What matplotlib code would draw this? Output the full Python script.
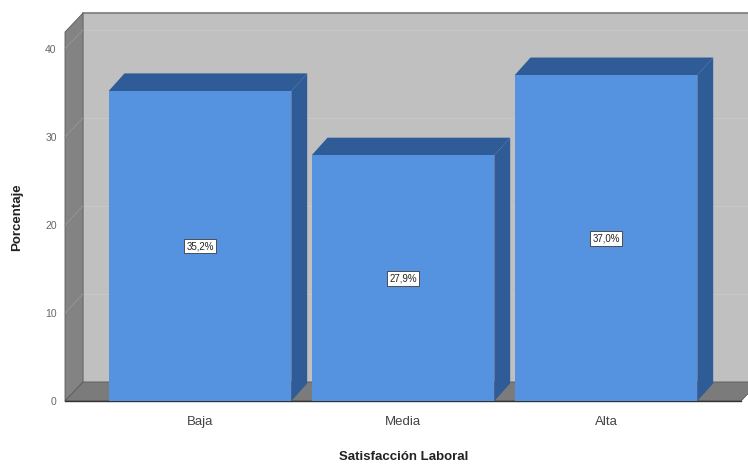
import matplotlib
matplotlib.use('Agg')
import matplotlib.pyplot as plt
from matplotlib.patches import Polygon

plt.rcParams['font.family'] = ['Liberation Sans', 'DejaVu Sans']

categories = ['Baja', 'Media', 'Alta']
percentages = [35.2, 27.9, 37.0]
y_ticks = [0, 10, 20, 30, 40]

# 3D look: depth of the walls and of the bars, in data units
xmin, xmax = -0.665, 2.665
ymax = 41.9
wall_dx, wall_dy = 0.089, 2.16
bar_dx, bar_dy = 0.078, 2.0
bar_w = 0.9

front_col = '#5592e0'
dark_col = '#2f5c96'
back_col = '#c0c0c0'
wall_col = '#838383'
floor_col = '#7b7b7b'

fig = plt.figure(figsize=(7.48, 4.69), dpi=100)
ax = fig.add_axes([65 / 748, 68 / 469, 676 / 748, 369 / 469])
ax.set_xlim(xmin, xmax)
ax.set_ylim(0, ymax)
ax.patch.set_visible(False)
for s in ax.spines.values():
    s.set_visible(False)


def poly(pts, fc, ec='none', lw=0, z=1):
    ax.add_patch(Polygon(pts, closed=True, facecolor=fc, edgecolor=ec,
                         linewidth=lw, clip_on=False, zorder=z))


# back wall, left wall, floor
poly([(xmin + wall_dx, wall_dy), (xmax + wall_dx, wall_dy),
      (xmax + wall_dx, ymax + wall_dy), (xmin + wall_dx, ymax + wall_dy)],
     back_col, z=0)
ax.plot([xmin + wall_dx, xmax + wall_dx], [ymax + wall_dy] * 2,
        color='#7a7a7a', lw=1.2, clip_on=False, zorder=0.5)
poly([(xmin, 0), (xmin + wall_dx, wall_dy), (xmin + wall_dx, ymax + wall_dy),
      (xmin, ymax)], wall_col, ec='#5a5a5a', lw=0.6, z=1)
poly([(xmin, 0), (xmax, 0), (xmax + wall_dx, wall_dy),
      (xmin + wall_dx, wall_dy)], floor_col, ec='#5a5a5a', lw=0.6, z=1)
ax.plot([xmin, xmax], [0, 0], color='#333333', lw=1.0, clip_on=False, zorder=1.2)

# faint grid lines on walls
for t in y_ticks[1:]:
    ax.plot([xmin + wall_dx, xmax + wall_dx], [t + wall_dy] * 2,
            color='#c7c7c7', lw=0.8, clip_on=False, zorder=0.6)
    ax.plot([xmin, xmin + wall_dx], [t, t + wall_dy],
            color='#939393', lw=0.8, clip_on=False, zorder=1.1)

# bars: side and top faces, then front
xs = range(len(categories))
for x, v in zip(xs, percentages):
    r = x + bar_w / 2
    l = x - bar_w / 2
    poly([(r, 0), (r + bar_dx, bar_dy), (r + bar_dx, v + bar_dy), (r, v)],
         dark_col, z=2)
    poly([(l, v), (r, v), (r + bar_dx, v + bar_dy), (l + bar_dx, v + bar_dy)],
         dark_col, z=2)
ax.bar(list(xs), percentages, width=bar_w, color=front_col, zorder=3,
       clip_on=False)

for x, v in zip(xs, percentages):
    ax.text(x, v / 2, f'{v:.1f}%'.replace('.', ','), ha='center', va='center',
            fontsize=7, color='#222222', zorder=4,
            bbox=dict(boxstyle='square,pad=0.25', fc='white', ec='#3a3a3a',
                      lw=0.6))

ax.set_xticks(list(xs))
ax.set_xticklabels(categories, fontsize=9.5, color='#444444')
ax.tick_params(axis='x', length=0, pad=11)
ax.set_yticks(y_ticks)
ax.set_yticklabels([str(t) for t in y_ticks], fontsize=7.5, color='#666666')
ax.tick_params(axis='y', length=0, pad=6)

fig.text(17 / 748, 1 - 217 / 469, 'Porcentaje', rotation=90, ha='center',
         va='center', fontsize=9.5, fontweight='bold', color='#222222')
fig.text(404 / 748, 1 - 457 / 469, 'Satisfacción Laboral', ha='center',
         va='center', fontsize=9.5, fontweight='bold', color='#222222')

fig.savefig('out.png', dpi=100)
